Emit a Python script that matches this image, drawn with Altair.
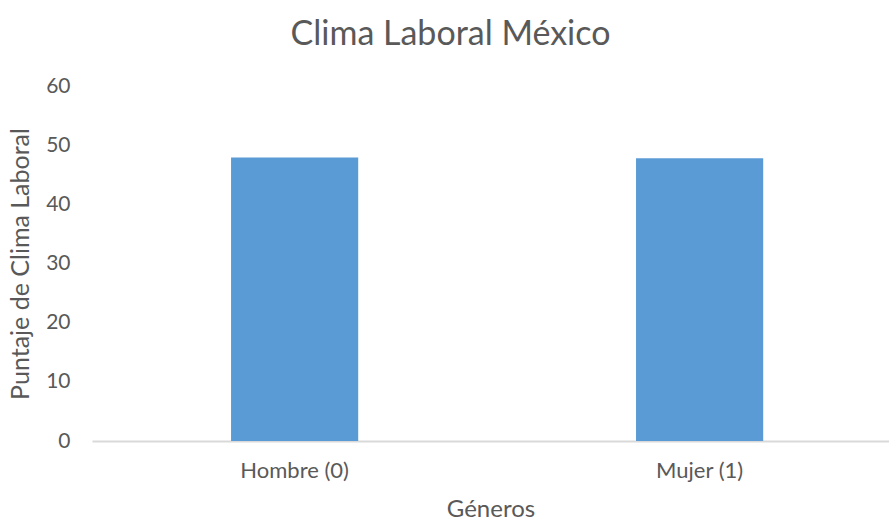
import altair as alt
import pandas as pd

# Average work-climate score by gender
generos = ["Hombre (0)", "Mujer (1)"]
puntajes = [47.9, 47.8]

df = pd.DataFrame({"genero": generos, "puntaje": puntajes})

TEXT = "#595959"
FONT = "Lato"

chart = (
    alt.Chart(df)
    .mark_bar(color="#5B9BD5")
    .encode(
        x=alt.X(
            "genero:N",
            sort=generos,
            title="Géneros",
            scale=alt.Scale(paddingInner=0.686, paddingOuter=0.327, align=0.525),
            axis=alt.Axis(
                labelAngle=0,
                labelFont=FONT,
                labelFontSize=22,
                labelColor=TEXT,
                labelPadding=19,
                ticks=False,
                domainColor="#D9D9D9",
                domainWidth=2,
                titleFont=FONT,
                titleFontSize=24,
                titleFontWeight="normal",
                titleColor=TEXT,
                titlePadding=16,
            ),
        ),
        y=alt.Y(
            "puntaje:Q",
            title="Puntaje de Clima Laboral",
            scale=alt.Scale(domain=[0, 60]),
            axis=alt.Axis(
                values=[0, 10, 20, 30, 40, 50, 60],
                grid=False,
                domain=False,
                ticks=False,
                labelFont=FONT,
                labelFontSize=21,
                labelColor=TEXT,
                labelPadding=22,
                titleFont=FONT,
                titleFontSize=25,
                titleFontWeight="normal",
                titleColor=TEXT,
                titlePadding=12,
            ),
        ),
    )
    .properties(
        width=797,
        height=355,
        background="white",
        autosize=alt.AutoSizeParams(type="none"),
        padding={"left": 92, "top": 86, "right": 0, "bottom": 81},
        title=alt.TitleParams(
            "Clima Laboral México",
            font=FONT,
            fontSize=34,
            fontWeight="normal",
            color=TEXT,
            anchor="middle",
            dx=-40,
            offset=23,
        ),
    )
    .configure_view(strokeWidth=0, stroke="transparent")
)

chart.save("out.html", embed_options={"renderer": "svg", "actions": False})
